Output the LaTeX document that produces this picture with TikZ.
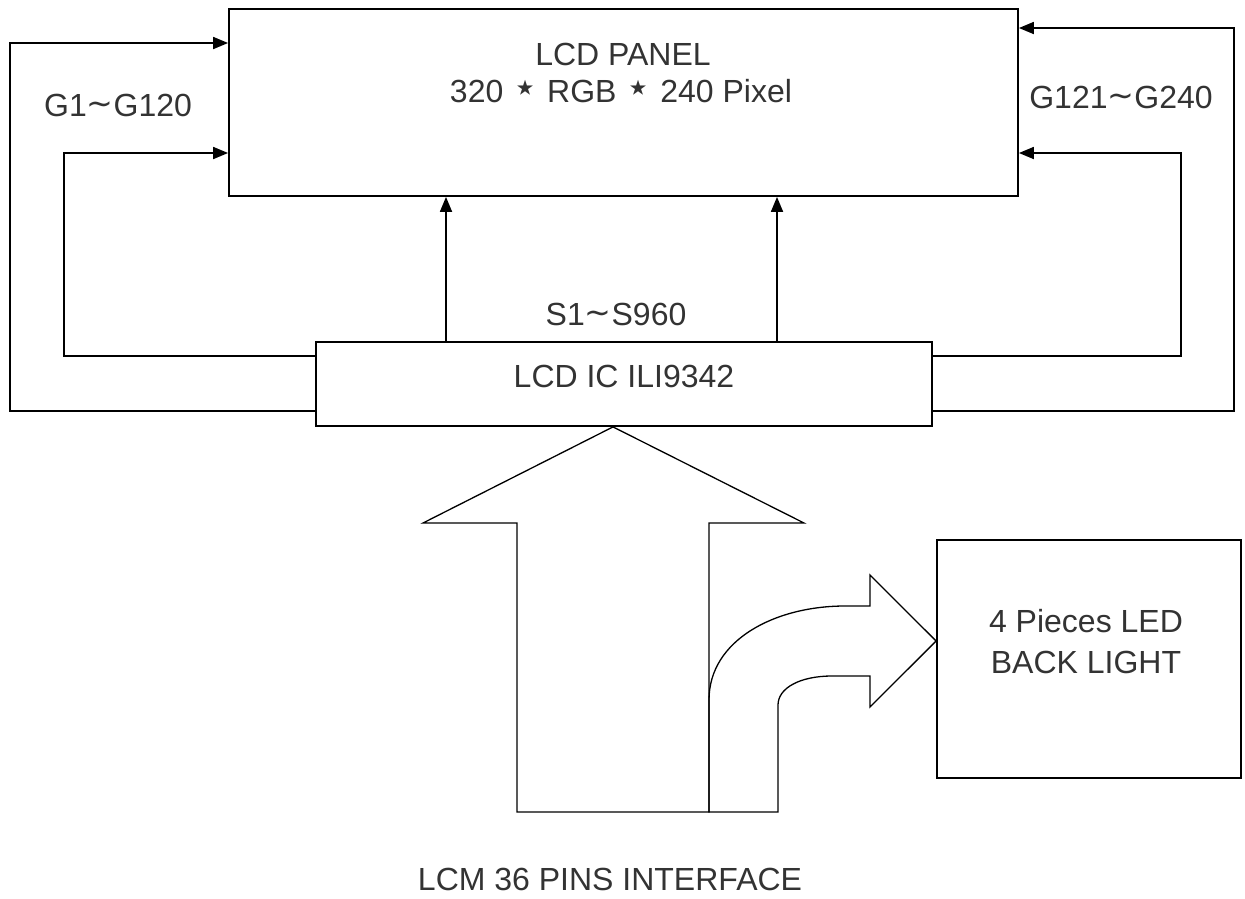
\documentclass[tikz,border=0pt]{standalone}
\usepackage{fontspec}
\setmainfont{Liberation Sans}
\newfontfamily\symfont{DejaVu Sans}
\usetikzlibrary{arrows.meta}
\newcommand{\wavy}{\raisebox{2pt}{\symfont\char"223C}}
\newcommand{\starsym}{\raisebox{1pt}{\scalebox{1.3}{\symfont ⋆}}}
\begin{document}
\begin{tikzpicture}[x=1pt,y=-1pt,
  box/.style={draw,line width=1.8pt,inner sep=0pt},
  lbl/.style={font=\fontsize{32}{38}\selectfont, text=black!80, inner sep=0pt, anchor=base},
  wire/.style={line width=1.8pt},
  arr/.style={line width=1.8pt,-{Triangle[length=15pt,width=12pt]}},
  bigshape/.style={line width=1.3pt, line join=miter}]
\useasboundingbox (0,0) rectangle (1245,898);
% boxes
\node[box, minimum width=789pt, minimum height=187pt] (panel) at (623.5,102.5) {};
\node[box, minimum width=616pt, minimum height=84pt] (ic) at (624,384) {};
\node[box, minimum width=304pt, minimum height=238pt] (led) at (1089,659) {};
% labels
\node[lbl] (t1) at (623,65) {LCD PANEL};
\node[lbl] (t2) at (621,102) {320 \starsym{} RGB \starsym{} 240 Pixel};
\node[lbl] (t3) at (624,387) {LCD IC ILI9342};
\node[lbl] (t4) at (616,325) {S1\wavy S960};
\node[lbl] (t5) at (118,116) {G1\wavy G120};
\node[lbl] (t6) at (1121,108) {G121\wavy G240};
\node[lbl] (t7) at (1086,632) {4 Pieces LED};
\node[lbl] (t8) at (1086,673) {BACK LIGHT};
\node[lbl] (t9) at (610,890) {LCM 36 PINS INTERFACE};
% helper coordinates
\coordinate (s1) at (446,0);
\coordinate (s2) at (777,0);
\coordinate (LO) at (10,411);
\coordinate (LOt) at (10,43);
\coordinate (LI) at (64,356);
\coordinate (LIt) at (64,153);
\coordinate (RO) at (1234,411);
\coordinate (ROt) at (1234,28);
\coordinate (RI) at (1181,356);
\coordinate (RIt) at (1181,153);
% source arrows
\draw[arr] (ic.north -| s1) -- (panel.south -| s1);
\draw[arr] (ic.north -| s2) -- (panel.south -| s2);
% gate lines
\draw[arr] (ic.west |- LO) -- (LO) -- (LOt) -- (panel.west |- LOt);
\draw[arr] (ic.west |- LI) -- (LI) -- (LIt) -- (panel.west |- LIt);
\draw[arr] (ic.east |- RO) -- (RO) -- (ROt) -- (panel.east |- ROt);
\draw[arr] (ic.east |- RI) -- (RI) -- (RIt) -- (panel.east |- RIt);
% big interface arrow
\draw[bigshape] (517,812) -- (517,523) -- (423,523) -- (ic.south -| 613,0) -- (804,523) -- (709,523) -- (709,812) -- cycle;
% bent backlight arrow
\draw[bigshape] (709,812) -- (709,700)
  .. controls (709,640) and (775,606) .. (845,606) -- (870,606) -- (870,575)
  -- (led.west |- 0,641) -- (870,707) -- (870,676) -- (832,676)
  .. controls (800,676) and (778,688) .. (778,705) -- (778,812) -- cycle;
\end{tikzpicture}
\end{document}
